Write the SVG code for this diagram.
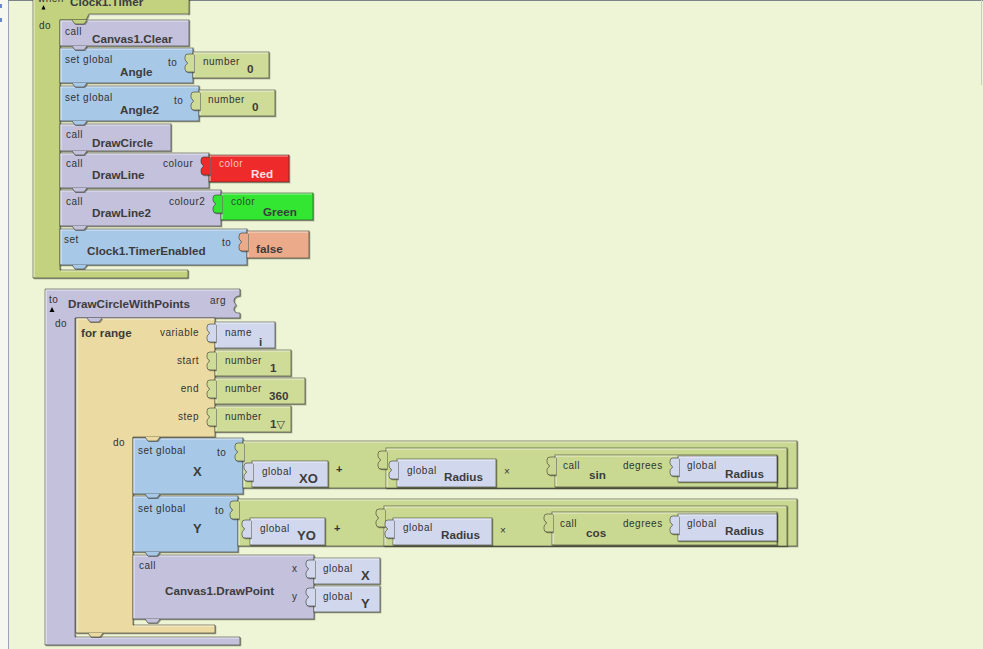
<svg xmlns="http://www.w3.org/2000/svg" xmlns:xlink="http://www.w3.org/1999/xlink" width="983" height="649" viewBox="0 0 983 649">
<style>
.ev{fill:#C2D27F}.num{fill:#CFDC98}.math{fill:#CAD992}.set{fill:#A8C8E8}.call{fill:#C3C1DC}.glob{fill:#D1D8EE}.tan{fill:#EBDBA3}.red{fill:#EE2B2B}.grn{fill:#33E633}.fls{fill:#EBAB8A}
.o{stroke:#2b2b20;stroke-opacity:.55;stroke-width:1;filter:url(#sh)}
.hl{fill:none;stroke:#fff;stroke-opacity:.6;stroke-width:1.2}
text{font-family:"Liberation Sans",Arial,sans-serif}
.s{font-size:10px;letter-spacing:.5px;fill:#333}
.t{font-size:11.7px;font-weight:bold;fill:#3c3c3c}
.v{font-size:13px;font-weight:bold;fill:#3c3c3c}
.op{font-size:11px;font-weight:bold;fill:#333}
.end{text-anchor:end}
</style>
<defs>
<filter id="sh" x="-5%" y="-5%" width="110%" height="115%">
<feOffset in="SourceAlpha" dx="1" dy="1" result="off"/>
<feFlood flood-color="#2a2a20" flood-opacity="0.45"/>
<feComposite in2="off" operator="in" result="shadow"/>
<feMerge><feMergeNode in="shadow"/><feMergeNode in="SourceGraphic"/></feMerge>
</filter>
<path id="knob" d="M1,2 H-5 Q-8,2 -8,5 V7 Q-8,9 -6,10 Q-5,11 -6,12 Q-8,13 -8,15 V17 Q-8,20 -5,20 H1"/>
<path id="tab" d="M12,0 L15,4 H24 L27,0"/>
</defs>

<g id="background">
<rect width="983" height="649" fill="#EEF5D7"/>
<rect x="0" y="0" width="8" height="649" fill="#F6F8F0"/>
<line x1="8.5" y1="0" x2="8.5" y2="649" stroke="#9AA4B4"/>
<line x1="8" y1="0.5" x2="983" y2="0.5" stroke="#7C838B"/>
<line x1="981.5" y1="0" x2="981.5" y2="85" stroke="#C9CCC0"/>
<rect x="0" y="4" width="2" height="4" fill="#6A88C8"/>
<rect x="0" y="18" width="2" height="4" fill="#6A88C8"/>
</g>

<g id="clock-timer">
<path class="ev o" d="M33,-5 H189 V14 H89 L86,20 H60 V270 H188 V278 H33 Z"/>
<path class="hl" d="M34,277 V-5 M61,271 H187 M89,15 H188"/>
<text class="s" x="38" y="1.5" font-size="9">when</text>
<polygon points="41.5,9.5 43.5,5 45.5,9.5" fill="#000"/>
<text class="t" x="70" y="6">Clock1.Timer</text>
<text class="s" x="39" y="29">do</text>
</g>

<g id="set-timer-enabled">
<rect class="set o" x="60" y="229" width="187" height="36"/>
<path class="hl" d="M61,264 V230 H246"/>
<use href="#tab" x="60" y="265" class="set o"/>
<text class="s" x="64" y="243">set</text>
<text class="s" x="222" y="246">to</text>
<text class="t" x="87" y="255">Clock1.TimerEnabled</text>
<rect class="fls o" x="247" y="231" width="62" height="27"/>
<path class="hl" d="M248,257 V232 H308"/>
<use href="#knob" x="247" y="231" class="fls o"/>
<text class="t" x="256" y="253">false</text>
</g>

<g id="draw-line2">
<rect class="call o" x="60" y="190" width="161" height="36"/>
<path class="hl" d="M61,225 V191 H220"/>
<use href="#tab" x="60" y="226" class="call o"/>
<text class="s" x="66" y="205">call</text>
<text class="s" x="169" y="205">colour2</text>
<text class="t" x="92" y="217">DrawLine2</text>
<rect class="grn o" x="221" y="193" width="92" height="27"/>
<path class="hl" d="M222,219 V194 H312"/>
<use href="#knob" x="221" y="193" class="grn o"/>
<text class="s" x="231" y="205" style="fill:#2d4a2d">color</text>
<text class="t" x="263" y="216">Green</text>
</g>

<g id="draw-line">
<rect class="call o" x="60" y="153" width="149" height="35"/>
<path class="hl" d="M61,187 V154 H208"/>
<use href="#tab" x="60" y="188" class="call o"/>
<text class="s" x="66" y="167">call</text>
<text class="s" x="163" y="167">colour</text>
<text class="t" x="92" y="179">DrawLine</text>
<rect class="red o" x="209" y="155" width="80" height="27"/>
<path class="hl" d="M210,181 V156 H288"/>
<use href="#knob" x="209" y="155" class="red o"/>
<text class="s" x="219" y="167" style="fill:#F6C4C4">color</text>
<text class="t" x="251" y="178" style="fill:#FBE2E2">Red</text>
</g>

<g id="draw-circle">
<rect class="call o" x="60" y="124" width="111" height="27"/>
<path class="hl" d="M61,150 V125 H170"/>
<use href="#tab" x="60" y="151" class="call o"/>
<text class="s" x="66" y="138">call</text>
<text class="t" x="92" y="147">DrawCircle</text>
</g>

<g id="set-angle2">
<rect class="set o" x="60" y="86" width="139" height="35"/>
<path class="hl" d="M61,120 V87 H198"/>
<use href="#tab" x="60" y="121" class="set o"/>
<text class="s" x="65" y="101">set global</text>
<text class="s" x="174" y="104">to</text>
<text class="t" x="120" y="114">Angle2</text>
<rect class="num o" x="199" y="90" width="76" height="26"/>
<path class="hl" d="M200,115 V91 H274"/>
<use href="#knob" x="199" y="90" class="num o"/>
<text class="s" x="208" y="103">number</text>
<text class="t" x="252" y="111">0</text>
</g>

<g id="set-angle">
<rect class="set o" x="60" y="48" width="133" height="35"/>
<path class="hl" d="M61,82 V49 H192"/>
<use href="#tab" x="60" y="83" class="set o"/>
<text class="s" x="65" y="63">set global</text>
<text class="s" x="168" y="66">to</text>
<text class="t" x="120" y="76">Angle</text>
<rect class="num o" x="193" y="52" width="76" height="26"/>
<path class="hl" d="M194,77 V53 H268"/>
<use href="#knob" x="193" y="52" class="num o"/>
<text class="s" x="203" y="65">number</text>
<text class="t" x="247" y="73">0</text>
</g>

<g id="canvas1-clear">
<rect class="call o" x="60" y="20" width="129" height="26"/>
<path class="hl" d="M61,45 V21 H188"/>
<use href="#tab" x="60" y="46" class="call o"/>
<text class="s" x="65" y="35">call</text>
<text class="t" x="92" y="43">Canvas1.Clear</text>
</g>

<g id="clock-timer-notch">
<use href="#tab" x="60" y="20" class="ev o"/>
</g>

<g id="draw-circle-with-points">
<path class="call o" d="M45,289 H240 V296 C236,296 234,298 234,301 C234,303 236,304 236,305 C236,306 234,307 234,309 C234,312 236,313 240,313 V318 H75 V637 H240 V645 H45 Z"/>
<path class="hl" d="M46,644 V290 H239 M76,638 H239"/>
<text class="s" x="49" y="303">to</text>
<polygon points="49.5,312 52,307 54.5,312" fill="#000"/>
<text class="t" x="68" y="308">DrawCircleWithPoints</text>
<text class="s" x="210" y="304">arg</text>
<text class="s" x="55" y="327">do</text>
</g>

<g id="for-range">
<path class="tan o" d="M76,318 H215 V437 H133 V625 H215 V633 H76 Z"/>
<path class="hl" d="M77,632 V319 H214 M134,626 H214"/>
<use href="#tab" x="76" y="633" class="tan o"/>
<text class="t" x="81" y="337">for range</text>
<text class="s end" x="199" y="336">variable</text>
<text class="s end" x="199" y="364">start</text>
<text class="s end" x="199" y="392">end</text>
<text class="s end" x="199" y="420">step</text>
<text class="s" x="113" y="446">do</text>
</g>

<g id="name-i">
<rect class="glob o" x="215" y="322" width="60" height="26"/>
<path class="hl" d="M216,347 V323 H274"/>
<use href="#knob" x="215" y="322" class="glob o"/>
<text class="s" x="225" y="336">name</text>
<text class="t" x="259" y="346">i</text>
</g>
<g id="number-start">
<rect class="num o" x="215" y="350" width="76" height="26"/>
<path class="hl" d="M216,375 V351 H290"/>
<use href="#knob" x="215" y="350" class="num o"/>
<text class="s" x="225" y="364">number</text>
<text class="t" x="270" y="372">1</text>
</g>
<g id="number-end">
<rect class="num o" x="215" y="378" width="90" height="26"/>
<path class="hl" d="M216,403 V379 H304"/>
<use href="#knob" x="215" y="378" class="num o"/>
<text class="s" x="225" y="392">number</text>
<text class="t" x="269" y="400">360</text>
</g>
<g id="number-step">
<rect class="num o" x="215" y="406" width="76" height="26"/>
<path class="hl" d="M216,431 V407 H290"/>
<use href="#knob" x="215" y="406" class="num o"/>
<text class="s" x="225" y="420">number</text>
<text class="t" x="270" y="428">1<tspan font-family="DejaVu Sans, sans-serif" font-weight="normal" font-size="11px">▽</tspan></text>
</g>

<g id="canvas1-drawpoint">
<rect class="call o" x="133" y="555" width="181" height="64"/>
<path class="hl" d="M134,618 V556 H313"/>
<use href="#tab" x="133" y="619" class="call o"/>
<text class="s" x="139" y="569">call</text>
<text class="t" x="165" y="595">Canvas1.DrawPoint</text>
<text class="s" x="292" y="572">x</text>
<text class="s" x="292" y="600">y</text>
<rect class="glob o" x="314" y="558" width="66" height="26"/>
<path class="hl" d="M315,583 V559 H379"/>
<use href="#knob" x="314" y="558" class="glob o"/>
<text class="s" x="323" y="572">global</text>
<text class="v" x="361" y="580">X</text>
<rect class="glob o" x="314" y="586" width="66" height="26"/>
<path class="hl" d="M315,611 V587 H379"/>
<use href="#knob" x="314" y="586" class="glob o"/>
<text class="s" x="323" y="600">global</text>
<text class="v" x="361" y="608">Y</text>
</g>

<g id="set-global-y">
<rect class="set o" x="133" y="496" width="105" height="56"/>
<path class="hl" d="M134,551 V497 H237"/>
<use href="#tab" x="133" y="552" class="set o"/>
<text class="s" x="138" y="512">set global</text>
<text class="s" x="215" y="514">to</text>
<text class="v" x="193" y="533">Y</text>
<rect class="math o" x="238" y="499" width="559" height="47"/>
<path class="hl" d="M239,545 V500 H796"/>
<use href="#knob" x="238" y="499" class="math o"/>
<rect class="glob o" x="250" y="518" width="75" height="27"/>
<path class="hl" d="M251,544 V519 H324"/>
<use href="#knob" x="250" y="518" class="glob o"/>
<text class="s" x="260" y="532">global</text>
<text class="v" x="297" y="540">YO</text>
<text class="op" x="334" y="532">+</text>
<rect class="math o" x="384" y="506" width="403" height="40"/>
<path class="hl" d="M385,545 V507 H786"/>
<use href="#knob" x="384" y="507" class="math o"/>
<rect class="glob o" x="393" y="518" width="99" height="27"/>
<path class="hl" d="M394,544 V519 H491"/>
<use href="#knob" x="393" y="518" class="glob o"/>
<text class="s" x="403" y="531">global</text>
<text class="t" x="441" y="539">Radius</text>
<text class="s" x="500" y="534">×</text>
<rect class="math o" x="552" y="512" width="225" height="33"/>
<path class="hl" d="M553,544 V513 H776"/>
<use href="#knob" x="552" y="512" class="math o"/>
<text class="s" x="560" y="527">call</text>
<text class="t" x="586" y="537">cos</text>
<text class="s" x="623" y="527">degrees</text>
<rect class="glob o" x="678" y="514" width="99" height="27"/>
<path class="hl" d="M679,540 V515 H776"/>
<use href="#knob" x="678" y="514" class="glob o"/>
<text class="s" x="687" y="527">global</text>
<text class="t" x="725" y="535">Radius</text>
</g>

<g id="set-global-x">
<rect class="set o" x="133" y="438" width="110" height="56"/>
<path class="hl" d="M134,493 V439 H242"/>
<use href="#tab" x="133" y="494" class="set o"/>
<text class="s" x="138" y="454">set global</text>
<text class="s" x="217" y="456">to</text>
<text class="v" x="193" y="476">X</text>
<rect class="math o" x="243" y="441" width="554" height="47"/>
<path class="hl" d="M244,487 V442 H796"/>
<use href="#knob" x="243" y="441" class="math o"/>
<rect class="glob o" x="252" y="461" width="76" height="26"/>
<path class="hl" d="M253,486 V462 H327"/>
<use href="#knob" x="252" y="461" class="glob o"/>
<text class="s" x="262" y="475">global</text>
<text class="v" x="299" y="483">XO</text>
<text class="op" x="336" y="473">+</text>
<rect class="math o" x="386" y="448" width="401" height="40"/>
<path class="hl" d="M387,487 V449 H786"/>
<use href="#knob" x="386" y="449" class="math o"/>
<rect class="glob o" x="397" y="459" width="99" height="28"/>
<path class="hl" d="M398,486 V460 H495"/>
<use href="#knob" x="397" y="459" class="glob o"/>
<text class="s" x="407" y="474">global</text>
<text class="t" x="444" y="481">Radius</text>
<text class="s" x="504" y="475">×</text>
<rect class="math o" x="555" y="455" width="222" height="32"/>
<path class="hl" d="M556,486 V456 H776"/>
<use href="#knob" x="555" y="455" class="math o"/>
<text class="s" x="563" y="469">call</text>
<text class="t" x="589" y="479">sin</text>
<text class="s" x="623" y="469">degrees</text>
<rect class="glob o" x="678" y="456" width="99" height="26"/>
<path class="hl" d="M679,481 V457 H776"/>
<use href="#knob" x="678" y="456" class="glob o"/>
<text class="s" x="687" y="469">global</text>
<text class="t" x="725" y="478">Radius</text>
</g>

<g id="stack-notches">
<use href="#tab" x="75" y="318" class="call o"/>
<use href="#tab" x="133" y="437" class="tan o"/>
</g>
</svg>
